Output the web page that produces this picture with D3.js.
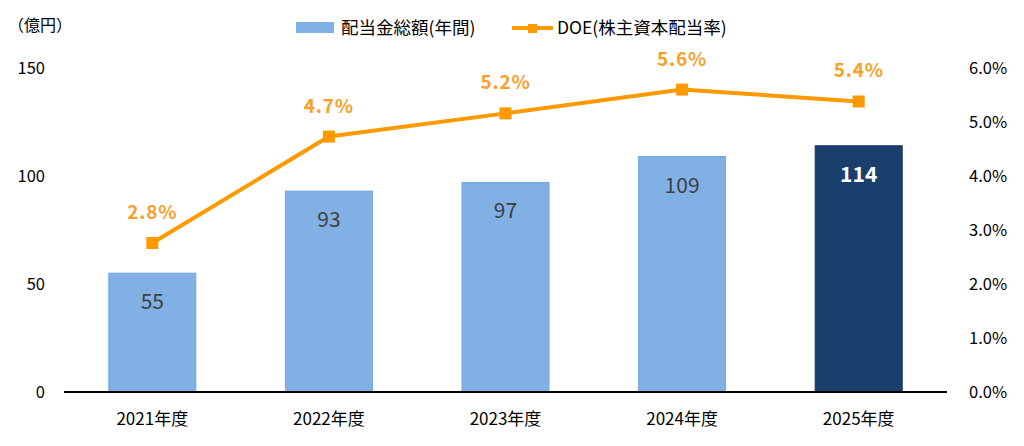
<!DOCTYPE html>
<html><head><meta charset="utf-8">
<script src="https://cdn.jsdelivr.net/npm/d3@7"></script>
<style>
html,body{margin:0;padding:0;background:#fff;}
svg{display:block;font-family:"Noto Sans CJK JP","Noto Sans",sans-serif;}
</style></head>
<body><svg id="c" width="1024" height="446"></svg>
<script>
const categories = ["2021年度","2022年度","2023年度","2024年度","2025年度"];
const dividends = [55, 93, 97, 109, 114];
const doe = [2.76, 4.73, 5.16, 5.60, 5.38];
const leftTicks = [0, 50, 100, 150];
const rightTicks = [0, 1, 2, 3, 4, 5, 6];
const highlight = [false, false, false, false, true];

(function(){
const svg = d3.select("#c");
const pLeft = 64, pRight = 947, pTop = 68, pBottom = 392;
const xc = d3.scaleBand().domain(categories).range([pLeft, pRight]);
const yL = d3.scaleLinear().domain([0, 150]).range([pBottom, pTop]);
const yR = d3.scaleLinear().domain([0, 6]).range([pBottom, pTop]);

const lightBlue = "#80B0E4", darkBlue = "#1A3F6C", orange = "#FF9900", orangeText = "#F9A02A";
const cx = i => xc(categories[i]) + xc.bandwidth()/2;
const ff = "'Noto Sans CJK JP','Noto Sans',sans-serif";

// bars
svg.selectAll("rect.bar").data(dividends).join("rect")
  .attr("x", (d,i) => cx(i) - 43.5)
  .attr("width", 87)
  .attr("y", d => yL(d))
  .attr("height", d => yL(0) - yL(d))
  .attr("fill", (d,i) => highlight[i] ? darkBlue : lightBlue)
  .attr("stroke", (d,i) => highlight[i] ? "#163560" : "#74a6de")
  .attr("stroke-width", 1);

// bar labels
svg.selectAll("text.bl").data(dividends).join("text")
  .attr("x", (d,i) => cx(i))
  .attr("y", d => yL(d) + 36)
  .attr("text-anchor", "middle")
  .attr("font-size", 21)
  .attr("font-weight", (d,i) => highlight[i] ? "bold" : "normal")
  .attr("fill", (d,i) => highlight[i] ? "#ffffff" : "#404040")
  .text(d => d);

// x axis line
svg.append("line").attr("x1", pLeft).attr("x2", pRight).attr("y1", pBottom).attr("y2", pBottom)
  .attr("stroke", "#000").attr("stroke-width", 2);

// left axis
const gL = svg.append("g").attr("transform", `translate(${pLeft},0)`)
  .call(d3.axisLeft(yL).tickValues(leftTicks).tickSize(0).tickPadding(19).tickFormat(d3.format("d")));
gL.select(".domain").remove();
gL.selectAll("text").attr("font-size", 16.5).attr("fill", "#000").attr("font-family", ff);

// right axis
const gR = svg.append("g").attr("transform", `translate(${pRight},0)`)
  .call(d3.axisRight(yR).tickValues(rightTicks).tickSize(0).tickPadding(22).tickFormat(d => d.toFixed(1) + "%"));
gR.select(".domain").remove();
gR.selectAll("text").attr("font-size", 16.5).attr("fill", "#000").attr("font-family", ff);

// x axis labels
const gX = svg.append("g").attr("transform", `translate(0,${pBottom})`)
  .call(d3.axisBottom(xc).tickSize(0).tickPadding(21));
gX.select(".domain").remove();
gX.selectAll("text").attr("font-size", 17).attr("fill", "#000").attr("font-family", ff);

// unit
svg.append("text").attr("x", 8).attr("y", 31).attr("font-size", 16).attr("fill", "#000").text("（億円）");

// DOE line
const line = d3.line().x((d,i) => cx(i)).y(d => yR(d));
svg.append("path").datum(doe).attr("d", line).attr("fill", "none")
  .attr("stroke", orange).attr("stroke-width", 4).attr("stroke-linejoin", "round");
svg.selectAll("rect.mk").data(doe).join("rect")
  .attr("x", (d,i) => cx(i) - 6).attr("y", d => yR(d) - 6)
  .attr("width", 12).attr("height", 12).attr("fill", orange);
svg.selectAll("text.dl").data(doe).join("text")
  .attr("x", (d,i) => cx(i)).attr("y", d => yR(d) - 24)
  .attr("text-anchor", "middle").attr("font-size", 19).attr("font-weight", "bold")
  .attr("letter-spacing", "0.8px")
  .attr("fill", orangeText)
  .text(d => d3.format(".1f")(d) + "%");

// legend
const lg = svg.append("g");
lg.append("rect").attr("x", 296).attr("y", 22).attr("width", 38).attr("height", 11).attr("fill", lightBlue);
lg.append("text").attr("x", 341).attr("y", 34).attr("font-size", 17.5).attr("fill", "#000").text("配当金総額(年間)");
lg.append("line").attr("x1", 512).attr("x2", 553).attr("y1", 28).attr("y2", 28).attr("stroke", orange).attr("stroke-width", 4);
lg.append("rect").attr("x", 528).attr("y", 24).attr("width", 9).attr("height", 9).attr("fill", orange);
lg.append("text").attr("x", 557).attr("y", 34).attr("font-size", 17.5).attr("fill", "#000").text("DOE(株主資本配当率)");
})();
</script></body></html>
